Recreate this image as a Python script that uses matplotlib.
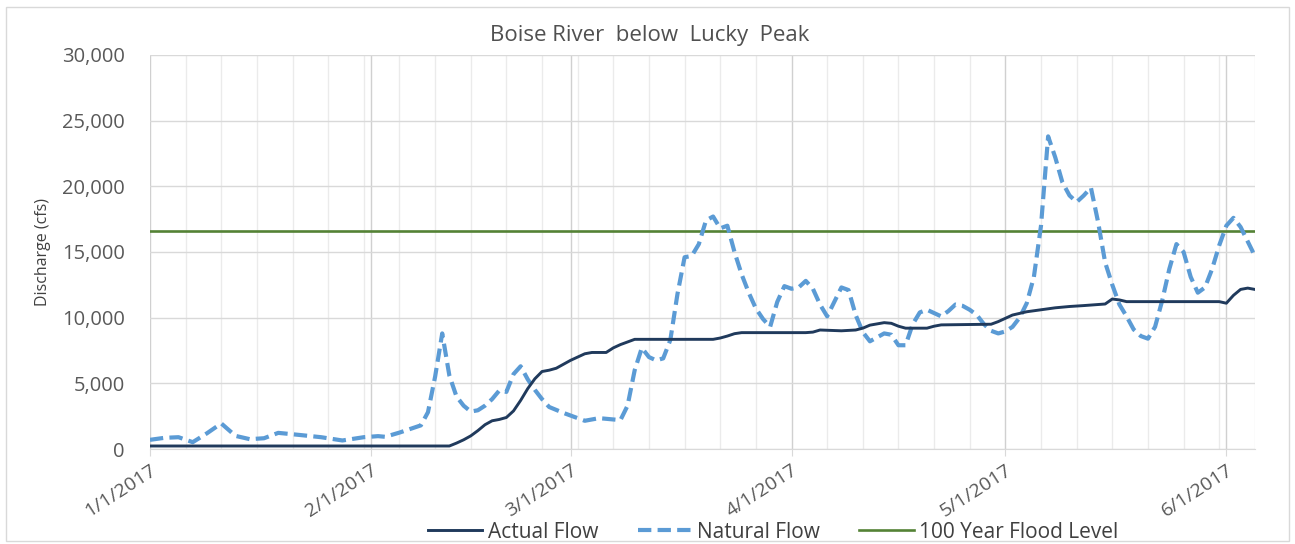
import pandas as pd
import matplotlib
matplotlib.use("Agg")
import matplotlib.pyplot as plt
import matplotlib.dates as mdates
import matplotlib.ticker as ticker
from matplotlib.patches import Rectangle

plt.rcParams['font.family'] = ['Open Sans', 'DejaVu Sans']

start = pd.Timestamp('2017-01-01')

# Natural flow (day offset from 1/1/2017, cfs)
natural_days = [0, 2, 4, 6, 8, 10, 12, 14, 16, 18, 21, 24, 27, 30, 32, 33, 35, 38, 39, 40,
                41, 42, 43, 44, 45, 46, 47, 48, 49, 50, 51, 52, 53, 54, 55, 56, 58, 60, 61, 63,
                65, 66, 67, 68, 69, 70, 71, 72, 73, 74, 75, 76, 77, 78, 79, 80, 81, 82, 83, 84,
                85, 86, 87, 88, 89, 90, 91, 92, 93, 94, 95, 96, 97, 98, 99, 100, 101, 102, 103, 104,
                105, 106, 107, 108, 109, 111, 112, 113, 114, 115, 116, 117, 118, 119, 120, 121, 122, 123, 124, 125,
                126, 127, 128, 129, 130, 131, 132, 133, 134, 135, 136, 137, 138, 139, 140, 141, 142, 143, 144, 145,
                146, 147, 148, 149, 150, 151, 152, 153, 154, 155]
natural_cfs = [700, 850, 900, 520, 1200, 1950, 1000, 750, 820, 1230, 1070, 900, 650, 900, 980, 930, 1250, 1800, 2800, 5500,
               8800, 5600, 4000, 3300, 2850, 2950, 3300, 3800, 4450, 4350, 5700, 6300, 5300, 4500, 3800, 3200, 2750, 2350, 2150, 2350,
               2250, 2200, 3300, 6000, 7700, 7000, 6750, 6900, 8300, 11800, 14600, 14700, 15600, 17400, 17700, 16800, 17000, 15000, 13300, 11900,
               10700, 9900, 9300, 11200, 12400, 12200, 12300, 12800, 12200, 11000, 10100, 11200, 12300, 12100, 10200, 8900, 8200, 8500, 8800, 8700,
               7900, 7900, 9500, 10400, 10600, 10100, 10500, 11000, 10900, 10600, 10200, 9500, 9000, 8800, 8950, 9300, 10000, 11100, 13100, 17000,
               23800, 22200, 20300, 19300, 18800, 19300, 19900, 17300, 14200, 12500, 11000, 10100, 9100, 8600, 8400, 9300, 11300, 13700, 15600, 15000,
               13100, 11900, 12300, 13700, 15500, 17000, 17600, 16900, 15800, 14700]

# Actual flow
actual_days = [0, 42, 43, 44, 45, 46, 47, 48, 49, 50, 51, 52, 53, 54, 55, 56, 57, 58, 59, 60,
               61, 62, 64, 65, 66, 67, 68, 79, 80, 81, 82, 83, 92, 93, 94, 97, 99, 100, 101, 103,
               104, 105, 106, 109, 110, 111, 118, 119, 120, 121, 123, 125, 127, 129, 131, 134, 135, 136, 137, 150,
               151, 152, 153, 154, 155]
actual_cfs = [230, 230, 450, 700, 1000, 1400, 1850, 2150, 2250, 2400, 2900, 3700, 4600, 5350, 5900, 6000, 6150, 6450, 6750, 7000,
              7250, 7350, 7350, 7700, 7950, 8150, 8350, 8350, 8450, 8600, 8780, 8860, 8860, 8900, 9060, 9000, 9060, 9200, 9430, 9620,
              9570, 9350, 9200, 9200, 9350, 9450, 9500, 9700, 9950, 10200, 10450, 10600, 10750, 10850, 10920, 11040, 11420, 11350, 11220, 11220,
              11100, 11700, 12150, 12250, 12150]

flood_level = 16600
end_day = 155

natural_dates = start + pd.to_timedelta(natural_days, unit='D')
actual_dates = start + pd.to_timedelta(actual_days, unit='D')
end_date = start + pd.Timedelta(days=end_day)

fig = plt.figure(figsize=(12.95, 5.44), dpi=100)
ax = fig.add_axes([0.1158, 0.1746, 0.969 - 0.1158, 0.899 - 0.1746])

# chart border
fig.patches.append(Rectangle((0.005, 0.005), 0.99, 0.982, transform=fig.transFigure,
                             fill=False, edgecolor='#D9D9D9', linewidth=1))

ax.plot(actual_dates, actual_cfs, color='#203A5C', linewidth=2.1, label='Actual Flow', zorder=4)
ax.plot(natural_dates, natural_cfs, color='#5B9BD5', linewidth=3.0, linestyle=(0, (3.2, 1.5)),
        label='Natural Flow', zorder=3)
ax.plot([start, end_date], [flood_level, flood_level], color='#548235', linewidth=1.9,
        label='100 Year Flood Level', zorder=2)

ax.set_xlim(start, end_date)
ax.set_ylim(0, 30000)

ax.xaxis.set_major_locator(mdates.MonthLocator())
ax.xaxis.set_major_formatter(ticker.FuncFormatter(
    lambda v, p: '{d.month}/{d.day}/{d.year}'.format(d=mdates.num2date(v))))
ax.xaxis.set_minor_locator(ticker.FixedLocator(
    mdates.date2num(pd.date_range(start, end_date, freq='5D'))))
ax.yaxis.set_major_locator(ticker.MultipleLocator(5000))
ax.yaxis.set_major_formatter(ticker.FuncFormatter(lambda v, p: f'{int(v):,}'))

ax.grid(True, which='major', axis='y', color='#D9D9D9', linewidth=1)
ax.grid(True, which='major', axis='x', color='#D0D0D0', linewidth=1)
ax.grid(True, which='minor', axis='x', color='#EBEBEB', linewidth=1)
ax.set_axisbelow(True)

for s in ['top', 'right', 'left']:
    ax.spines[s].set_visible(False)
ax.spines['bottom'].set_color('#D9D9D9')

ax.tick_params(axis='y', length=0, labelsize=14.5, labelcolor='#595959', pad=18)
ax.tick_params(axis='x', which='major', length=5, color='#D9D9D9', labelsize=14, labelcolor='#595959')
ax.tick_params(axis='x', which='minor', length=0)
for lbl in ax.get_xticklabels():
    lbl.set_rotation(33)
    lbl.set_ha('right')
    lbl.set_rotation_mode('anchor')

ax.set_ylabel('Discharge (cfs)', fontsize=11.5, color='#404040', labelpad=8)
fig.text(0.502, 0.935, 'Boise River  below  Lucky  Peak', fontsize=16, color='#505050',
         ha='center', va='center')

fig.legend(loc='center', bbox_to_anchor=(0.597, 0.022), ncol=3, frameon=False,
           fontsize=15, labelcolor='#404040', handlelength=2.6, handletextpad=0.25,
           columnspacing=1.9)

fig.savefig('out.png', dpi=100)
